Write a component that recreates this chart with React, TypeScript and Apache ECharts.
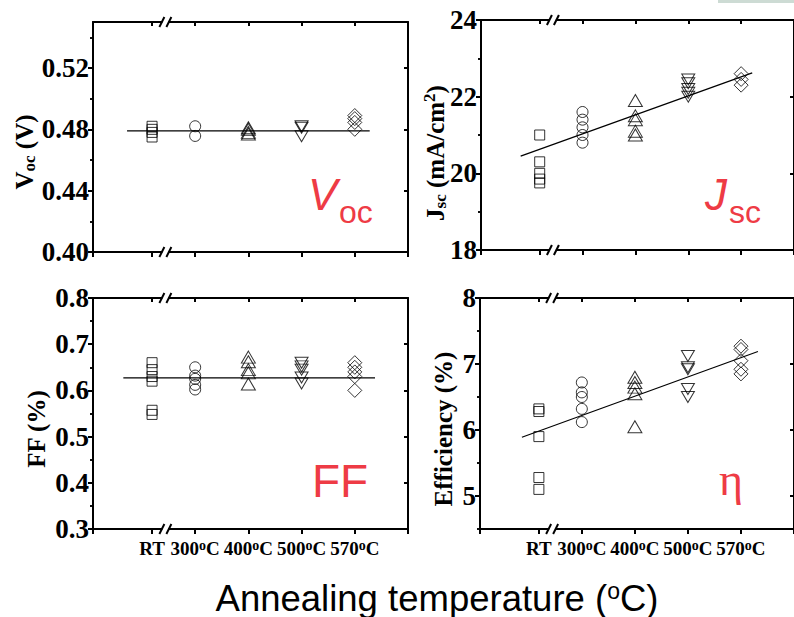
import React, { useEffect, useRef } from 'react';
import * as echarts from 'echarts';

// categories of the broken x axis and their positions on it
const categories = ['RT', '300', '400', '500', '570'];
const categoryX = [1.11, 1.92, 2.92, 3.92, 4.92];
const xMin = 0;
const xMax = 5.92;
const breakX = 1.36;

// measured values per temperature group
const vocData = [
  [0.482, 0.48, 0.478, 0.475],
  [0.482, 0.4757],
  [0.481, 0.48, 0.478, 0.477],
  [0.482, 0.481, 0.4755],
  [0.489, 0.487, 0.4845, 0.48],
];
const jscData = [
  [21.0, 20.3, 20.0, 19.85, 19.75],
  [21.6, 21.4, 21.2, 21.0, 20.8],
  [21.9, 21.5, 21.4, 21.1, 21.0],
  [22.45, 22.35, 22.2, 22.1, 22.0],
  [22.6, 22.45, 22.3],
];
const ffData = [
  [0.66, 0.645, 0.63, 0.62, 0.557, 0.548],
  [0.65, 0.632, 0.625, 0.612, 0.602],
  [0.672, 0.662, 0.645, 0.638, 0.614],
  [0.66, 0.652, 0.645, 0.628, 0.615],
  [0.66, 0.65, 0.64, 0.63, 0.6],
];
const effData = [
  [6.32, 6.28, 5.9, 5.28, 5.1],
  [6.72, 6.57, 6.5, 6.32, 6.12],
  [6.8, 6.72, 6.65, 6.55, 6.05],
  [7.12, 6.95, 6.92, 6.62, 6.5],
  [7.27, 7.22, 7.05, 6.92, 6.85],
];

// linear fit end points
const vocFit = [[0.64, 0.479], [5.2, 0.479]];
const jscFit = [[0.75, 20.45], [5.13, 22.62]];
const ffFit = [[0.57, 0.627], [5.3, 0.627]];
const effFit = [[0.79, 5.89], [5.24, 7.19]];

// y ticks
const vocTicks = [0.4, 0.44, 0.48, 0.52];
const vocMinor = [0.42, 0.46, 0.5, 0.54];
const jscTicks = [18, 20, 22, 24];
const jscMinor = [19, 21, 23];
const ffTicks = [0.3, 0.4, 0.5, 0.6, 0.7, 0.8];
const ffMinor = [0.35, 0.45, 0.55, 0.65, 0.75];
const effTicks = [5, 6, 7, 8];
const effMinor = [4.5, 5.5, 6.5, 7.5];

const SERIF = 'Liberation Serif';
const SANS = 'Liberation Sans';
const RED = '#EE3B45';

const symbols = ['rect', 'circle', 'triangle', 'triangle', 'diamond'];
const symbolRotates = [0, 0, 0, 180, 0];
const symbolSizes: any[] = [[10, 10], 11, [14, 12], [13, 11], [14, 14]];

const panels = [
  { grid: { left: 93, top: 22, width: 315, height: 230 }, data: vocData, fit: vocFit, min: 0.4, max: 0.55, ticks: vocTicks, minor: vocMinor, dec: 2, showX: false },
  { grid: { left: 481, top: 20, width: 315, height: 230 }, data: jscData, fit: jscFit, min: 18, max: 24, ticks: jscTicks, minor: jscMinor, dec: 0, showX: false },
  { grid: { left: 93, top: 298, width: 315, height: 231 }, data: ffData, fit: ffFit, min: 0.3, max: 0.8, ticks: ffTicks, minor: ffMinor, dec: 1, showX: true },
  { grid: { left: 480, top: 298, width: 315, height: 231 }, data: effData, fit: effFit, min: 4.5, max: 8, ticks: effTicks, minor: effMinor, dec: 0, showX: true },
];

function buildOption() {
  const grid: any[] = [];
  const xAxis: any[] = [];
  const yAxis: any[] = [];
  const series: any[] = [];
  const lineStyle = { color: '#000', width: 2 };
  panels.forEach((p, i) => {
    grid.push({ ...p.grid, containLabel: false });
    xAxis.push({
      gridIndex: i, type: 'value', min: xMin, max: xMax, position: 'bottom',
      axisLine: { show: true, onZero: false, lineStyle },
      axisTick: { show: true, inside: false, length: 5, customValues: [xMin, ...categoryX, xMax], lineStyle: { color: '#000', width: 2 } },
      axisLabel: {
        show: p.showX, customValues: categoryX, margin: 9,
        formatter: (v: number) => {
          const k = categoryX.findIndex((c) => Math.abs(c - v) < 1e-6);
          if (k < 0) return '';
          const c = categories[k];
          return c === 'RT' ? '{n|RT}' : `{n|${c}}{s|o}{n|C}`;
        },
        rich: {
          n: { fontFamily: SERIF, fontWeight: 'bold', fontSize: 19, lineHeight: 20, color: '#000' },
          s: { fontFamily: SERIF, fontWeight: 'bold', fontSize: 14, lineHeight: 12, verticalAlign: 'top', color: '#000' },
        },
      },
      splitLine: { show: false },
    });
    xAxis.push({
      gridIndex: i, type: 'value', min: xMin, max: xMax, position: 'top',
      axisLine: { show: true, onZero: false, lineStyle },
      axisTick: { show: true, inside: true, length: 4, customValues: categoryX, lineStyle: { color: '#000', width: 2 } },
      axisLabel: { show: false },
      splitLine: { show: false },
    });
    yAxis.push({
      gridIndex: i, type: 'value', min: p.min, max: p.max, position: 'left',
      axisLine: { show: true, onZero: false, lineStyle },
      axisTick: { show: true, inside: false, length: 5, customValues: p.ticks, lineStyle: { color: '#000', width: 2 } },
      axisLabel: {
        show: true, customValues: p.ticks, margin: 4,
        formatter: (v: number) => v.toFixed(p.dec),
        fontFamily: SERIF, fontWeight: 'bold', fontSize: 27, color: '#000',
      },
      splitLine: { show: false },
    });
    yAxis.push({
      gridIndex: i, type: 'value', min: p.min, max: p.max, position: 'left',
      axisLine: { show: false },
      axisTick: { show: true, inside: false, length: 3, customValues: p.minor, lineStyle: { color: '#000', width: 1.5 } },
      axisLabel: { show: false },
      splitLine: { show: false },
    });
    yAxis.push({
      gridIndex: i, type: 'value', min: p.min, max: p.max, position: 'right',
      axisLine: { show: true, onZero: false, lineStyle },
      axisTick: { show: true, inside: true, length: 4, customValues: p.ticks, lineStyle: { color: '#000', width: 2 } },
      axisLabel: { show: false },
      splitLine: { show: false },
    });
    yAxis.push({
      gridIndex: i, type: 'value', min: p.min, max: p.max, position: 'right',
      axisLine: { show: false },
      axisTick: { show: true, inside: true, length: 3, customValues: p.minor, lineStyle: { color: '#000', width: 1.5 } },
      axisLabel: { show: false },
      splitLine: { show: false },
    });
    p.data.forEach((vals, k) => {
      series.push({
        type: 'scatter', xAxisIndex: 2 * i, yAxisIndex: 4 * i,
        symbol: symbols[k], symbolRotate: symbolRotates[k], symbolSize: symbolSizes[k],
        itemStyle: { color: 'rgba(0,0,0,0)', borderColor: '#000', borderWidth: 1 },
        data: vals.map((v) => [categoryX[k], v]),
      });
    });
    series.push({
      type: 'line', xAxisIndex: 2 * i, yAxisIndex: 4 * i, symbol: 'none',
      lineStyle: { color: '#000', width: 1.2 }, data: p.fit, z: 1,
    });
  });
  return { animation: false, backgroundColor: '#fff', grid, xAxis, yAxis, series };
}

function staticGraphics(): any[] {
  const nameRich = () => ({
    a: { fontFamily: SERIF, fontWeight: 'bold', fontSize: 25, lineHeight: 28, fill: '#000' },
    b: { fontFamily: SERIF, fontWeight: 'bold', fontSize: 17, lineHeight: 16, verticalAlign: 'bottom', fill: '#000' },
    c: { fontFamily: SERIF, fontWeight: 'bold', fontSize: 17, lineHeight: 12, verticalAlign: 'top', fill: '#000' },
  });
  const yName = (text: string, x: number, y: number) => ({
    type: 'text', x, y, rotation: Math.PI / 2, z: 100,
    style: { text, rich: nameRich(), align: 'center', verticalAlign: 'middle', fontFamily: SERIF, fontWeight: 'bold', fontSize: 25, fill: '#000' },
  });
  const red = (text: string, x: number, y: number, size: number, italic = false, family = SANS, align = 'left') => ({
    type: 'text', x, y, z: 100,
    style: { text, fontFamily: family, fontSize: size, fontStyle: italic ? 'italic' : 'normal', fill: RED, align, verticalAlign: 'middle' },
  });
  return [
    { type: 'rect', shape: { x: 718, y: 0, width: 76, height: 3 }, style: { fill: '#cddbd4' }, z: 100 },
    yName('{a|V}{b|oc}{a| (V)}', 24, 152),
    yName('{a|J}{b|sc}{a| (mA/cm}{c|2}{a|)}', 435, 153),
    yName('{a|FF (%)}', 36, 429),
    yName('{a|Efficiency (%)}', 443, 429),
    red('V', 308, 194, 44, true),
    red('oc', 339, 212, 32),
    red('J', 705, 194, 44, true),
    red('sc', 729, 212, 32),
    red('FF', 340, 481, 46, false, SANS, 'center'),
    red('η', 731, 479, 46, false, SERIF, 'center'),
    {
      type: 'text', x: 437, y: 598, z: 100,
      style: {
        text: '{a|Annealing temperature (}{s|o}{a|C)}', align: 'center', verticalAlign: 'middle',
        rich: {
          a: { fontFamily: SANS, fontSize: 36.5, lineHeight: 38, fill: '#000' },
          s: { fontFamily: SANS, fontSize: 23, lineHeight: 22, verticalAlign: 'top', fill: '#000' },
        },
      },
    },
  ];
}

export default function App() {
  const ref = useRef<HTMLDivElement>(null);
  useEffect(() => {
    const chart = echarts.init(ref.current as HTMLDivElement, null, { renderer: 'svg', width: 794, height: 617 });
    chart.setOption(buildOption() as any);
    const brk: any[] = [];
    panels.forEach((p, i) => {
      const bx = chart.convertToPixel({ xAxisIndex: 2 * i } as any, breakX) as unknown as number;
      const yTop = chart.convertToPixel({ yAxisIndex: 4 * i } as any, p.max) as unknown as number;
      const yBot = chart.convertToPixel({ yAxisIndex: 4 * i } as any, p.min) as unknown as number;
      [yTop, yBot].forEach((y) => {
        brk.push({ type: 'rect', z: 101, shape: { x: bx - 3, y: y - 2.5, width: 6, height: 5 }, style: { fill: '#fff' } });
        brk.push({ type: 'line', z: 102, shape: { x1: bx - 6, y1: y + 5, x2: bx - 1, y2: y - 5 }, style: { stroke: '#000', lineWidth: 2 } });
        brk.push({ type: 'line', z: 102, shape: { x1: bx + 1, y1: y + 5, x2: bx + 6, y2: y - 5 }, style: { stroke: '#000', lineWidth: 2 } });
      });
    });
    chart.setOption({ graphic: [...staticGraphics(), ...brk] } as any);
    return () => chart.dispose();
  }, []);
  return <div ref={ref} style={{ position: 'absolute', left: 0, top: 0, width: 794, height: 617, background: '#fff' }} />;
}
